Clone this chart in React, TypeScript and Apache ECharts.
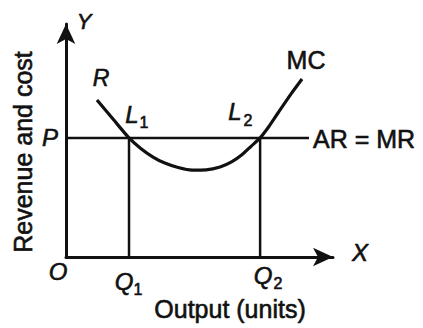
import React, { useEffect, useRef } from "react";
import * as echarts from "echarts";

// Data (axis units 0..100)
const curveMC: [number, number][] = [
  [11.6, 67.4], [17.6, 59.2], [23.6, 51.1], [28.0, 46.6], [32.6, 42.9],
  [37.0, 40.3], [42.0, 38.4], [47.2, 37.3], [52.5, 37.4], [57.7, 38.6],
  [62.0, 40.8], [66.0, 44.0], [69.4, 47.6], [72.7, 51.1], [76.0, 56.0],
  [79.4, 61.8], [84.3, 70.0], [88.4, 76.4],
];
const priceP = 51.1;
const arEnd = 91.0;
const q1 = 23.6;
const q2 = 72.7;

const FONT = '"Liberation Sans", Arial, sans-serif';

function txt(text: string, x: number, y: number, size: number, italic = false, align = "center") {
  return {
    type: "text",
    x,
    y,
    style: {
      text,
      fontSize: size,
      fontFamily: FONT,
      fontStyle: italic ? "italic" : "normal",
      fill: "#111",
      stroke: "#111",
      lineWidth: 0.6,
      align,
      verticalAlign: "middle",
    },
  };
}

export default function App() {
  const ref = useRef<HTMLDivElement>(null);
  useEffect(() => {
    if (!ref.current) return;
    const chart = echarts.init(ref.current, null, { renderer: "svg" });
    const lineBase = {
      type: "line",
      showSymbol: false,
      symbol: "none",
      silent: true,
    };
    const axisCommon = {
      type: "value",
      min: 0,
      max: 100,
      axisLine: {
        show: true,
        symbol: ["none", "arrow"],
        symbolSize: [14, 20],
        lineStyle: { color: "#111", width: 3 },
      },
      axisTick: { show: false },
      axisLabel: { show: false },
      splitLine: { show: false },
    };
    chart.setOption({
      animation: false,
      backgroundColor: "#fff",
      grid: { left: 66, top: 24, width: 267, height: 233 },
      xAxis: { ...axisCommon },
      yAxis: { ...axisCommon },
      series: [
        {
          ...lineBase,
          data: [[0, priceP], [arEnd, priceP]],
          lineStyle: { color: "#111", width: 2.5 },
        },
        {
          ...lineBase,
          data: [[q1, 0], [q1, priceP]],
          lineStyle: { color: "#111", width: 2.5 },
        },
        {
          ...lineBase,
          data: [[q2, 0], [q2, priceP]],
          lineStyle: { color: "#111", width: 2.5 },
        },
        {
          ...lineBase,
          smooth: 0.25,
          data: curveMC,
          lineStyle: { color: "#111", width: 3.2 },
        },
      ],
      graphic: [
        txt("Y", 84, 21, 22, true),
        txt("X", 360, 252, 24, true),
        txt("R", 101, 78, 23, true),
        txt("L", 132, 114, 24, true),
        txt("1", 144, 122, 16, false),
        txt("L", 235, 111, 24, true),
        txt("2", 248, 120, 16, false),
        txt("P", 50, 137, 24, true),
        txt("MC", 306, 60, 25),
        txt("AR = MR", 313, 139, 25, false, "left"),
        txt("O", 58, 271, 24, true),
        txt("Q", 124, 281, 24, true),
        txt("1", 138, 289, 16, false),
        txt("Q", 263, 275, 24, true),
        txt("2", 278, 283, 16, false),
        txt("Output (units)", 230, 309, 25),
        {
          type: "text",
          x: 23,
          y: 152,
          rotation: Math.PI / 2,
          style: {
            text: "Revenue and cost",
            fontSize: 25,
            fontFamily: FONT,
            fill: "#111",
            stroke: "#111",
            lineWidth: 0.6,
            align: "center",
            verticalAlign: "middle",
          },
        },
      ],
    });
    return () => chart.dispose();
  }, []);
  return (
    <div
      ref={ref}
      style={{ position: "absolute", left: 0, top: 0, width: 423, height: 328 }}
    />
  );
}
